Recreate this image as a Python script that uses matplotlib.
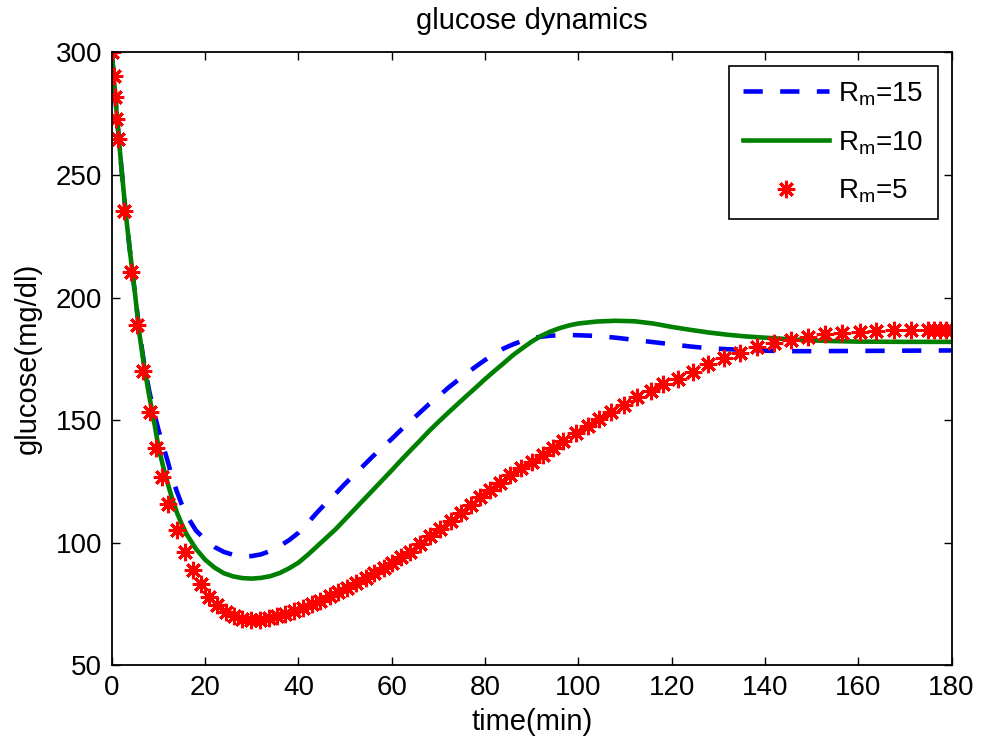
import matplotlib
matplotlib.use("Agg")
import matplotlib.pyplot as plt

plt.rcParams['font.family'] = ['Liberation Sans', 'DejaVu Sans']
plt.rcParams['mathtext.fontset'] = 'custom'
plt.rcParams['mathtext.rm'] = 'Liberation Sans'

# Rm = 15
t15 = [0, 0.5, 1, 1.5, 2, 3, 4, 5, 6, 7, 8, 9, 10, 11, 12, 13, 14, 15, 16, 18,
       20, 22, 24, 26, 28, 30, 32, 34, 36, 38, 40, 42, 44, 46, 48, 50, 52, 54, 56, 58,
       60, 62, 64, 66, 68, 70, 72, 74, 76, 78, 80, 82, 84, 86, 88, 90, 92, 94, 96, 98,
       100, 104, 108, 112, 116, 120, 124, 128, 132, 136, 140, 145, 150, 160, 170, 180]
g15 = [300, 288, 276, 265, 254, 234, 217, 201, 185, 172, 162, 153.5, 146, 139.5, 133, 126, 120.5, 115.5, 111.2, 105,
       101.2, 98.2, 96.2, 95, 94.4, 94.5, 95.2, 96.6, 98.6, 101, 104, 108, 112.3, 116.3, 120, 124, 127.8, 131.5, 135.3, 138.8,
       142.3, 146, 149.5, 153, 156.5, 159.5, 163, 166, 169, 171.8, 174.5, 177, 179.2, 180.9, 182.3, 183.3, 184, 184.4, 184.6, 184.7,
       184.6, 184.3, 183.6, 182.7, 181.8, 180.9, 180, 179.3, 178.9, 178.6, 178.3, 178.1, 178.1, 178.2, 178.3, 178.4]

# Rm = 10
t10 = [0, 0.5, 1, 1.5, 2, 3, 4, 5, 6, 7, 8, 9, 10, 11, 12, 13, 14, 15, 16, 18,
       20, 22, 24, 26, 28, 30, 32, 34, 36, 38, 40, 42, 44, 46, 48, 50, 52, 54, 56, 58,
       60, 62, 64, 66, 68, 70, 72, 74, 76, 78, 80, 82, 84, 86, 88, 90, 92, 94, 96, 98,
       100, 104, 108, 112, 116, 120, 124, 128, 132, 136, 140, 145, 150, 155, 160, 170, 180]
g10 = [300, 288, 276, 265, 254, 234, 217, 201, 184, 171, 160, 150, 139, 131, 124, 117.5, 112, 107.5, 103.5, 97.5,
       93, 89.8, 87.5, 86.2, 85.5, 85.3, 85.6, 86.3, 87.6, 89.5, 91.8, 95, 98.5, 102, 105.5, 109.5, 113.5, 117.5, 121.5, 125.5,
       129.5, 133.6, 137.6, 141.5, 145.5, 149.2, 152.8, 156.3, 159.8, 163.2, 166.7, 170, 173.2, 176.5, 179.3, 182, 184.3, 186.1, 187.5, 188.6,
       189.4, 190.2, 190.5, 190.3, 189.4, 188, 186.8, 185.7, 184.8, 184.1, 183.6, 183, 182.5, 182.2, 182, 181.9, 181.9]

# Rm = 5 (solver output points, drawn as markers only)
t5 = [0, 0.4, 0.6, 0.9, 1.3, 2.6, 4.1, 5.3, 6.7, 8.1, 9.4, 10.8, 12.1, 13.9, 15.6, 17.4, 19.1, 20.8, 22.6, 24.4,
      26.2, 28.0, 29.9, 31.7, 33.7, 35.5, 37.2, 39.0, 41.0, 43.0, 44.7, 46.7, 48.5, 50.4, 52.4, 54.4, 56.3, 58.3, 60.1, 62.0,
      63.9, 66.0, 68.2, 70.4, 72.6, 74.8, 77.0, 79.0, 81.1, 83.3, 85.4, 87.7, 90.0, 92.4, 94.5, 96.8, 99.5, 102.0, 104.5, 107.0,
      109.8, 112.5, 115.5, 118.2, 121.4, 124.6, 127.8, 131.2, 134.6, 138.2, 141.9, 145.5, 149.3, 152.8, 156.6, 160.3, 163.9, 167.6, 171.4, 174.9,
      176.2, 177.5, 178.8, 180.0]
g5 = [300, 290.5, 281.7, 273, 264.6, 235.4, 210.6, 188.6, 170, 153.1, 138.6, 126.6, 115.9, 105, 96, 88.7, 82.9, 77.9, 74.5, 71.8,
      70.2, 69.0, 68.5, 68.6, 69.3, 70.1, 71.0, 72.1, 73.4, 74.9, 76.3, 78.0, 79.7, 81.5, 83.5, 85.5, 87.5, 89.7, 91.8, 94.0,
      96.2, 99.3, 102.5, 105.7, 109.0, 112.2, 115.4, 118.6, 121.3, 124.4, 127.4, 130.4, 133.0, 135.8, 138.5, 141.6, 144.6, 147.4, 150.4, 153.1,
      156.1, 159.2, 161.9, 164.6, 166.7, 169.8, 172.8, 175.5, 177.5, 179.6, 181.6, 182.6, 184.0, 185.0, 185.6, 186.0, 186.3, 186.6, 186.6, 186.6,
      186.6, 186.6, 186.6, 186.6]

labels = ['R$_\\mathregular{m}$=15', 'R$_\\mathregular{m}$=10', 'R$_\\mathregular{m}$=5']
xticks = list(range(0, 181, 20))
yticks = list(range(50, 301, 50))

fig = plt.figure(figsize=(9.81, 7.49), dpi=100)
ax = fig.add_axes([0.114, 0.112, 0.856, 0.818])

ax.plot(t15, g15, color=(0, 0, 1), lw=3.3, dashes=(4.2, 3.8), label=labels[0])
ax.plot(t10, g10, color=(0, 0.5, 0), lw=3.3, label=labels[1])
ax.plot(t5, g5, ls='none', marker=(8, 2, 0), ms=12.5, mew=2.2,
        color=(1, 0, 0), label=labels[2])

ax.set_xlim(0, 180)
ax.set_ylim(50, 300)
ax.set_xticks(xticks)
ax.set_yticks(yticks)
ax.tick_params(direction='in', top=True, right=True, length=6, width=1,
               labelsize=20, pad=7)
for s in ax.spines.values():
    s.set_linewidth(1.3)

ax.set_title('glucose dynamics', fontsize=21, pad=17)
ax.set_xlabel('time(min)', fontsize=21, labelpad=5)
ax.set_ylabel('glucose(mg/dl)', fontsize=21, labelpad=10)

leg = ax.legend(loc='upper right', fontsize=20, fancybox=False, framealpha=1,
                edgecolor='black', handlelength=3.1, borderaxespad=0.5,
                labelspacing=0.75, handletextpad=0.35, borderpad=0.5)
leg.get_frame().set_linewidth(1.2)

fig.savefig('out.png', dpi=100)
